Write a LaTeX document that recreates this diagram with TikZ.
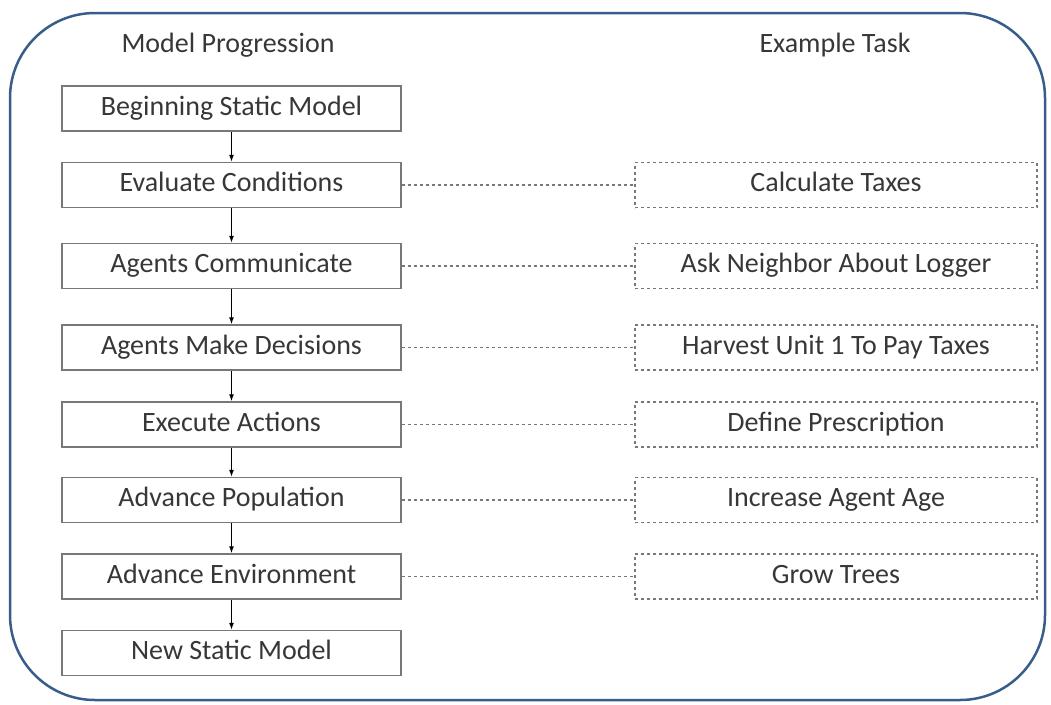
\documentclass[tikz,border=0pt]{standalone}
\usepackage{fontspec}
\setmainfont{Carlito}
\usetikzlibrary{positioning, arrows.meta}
\definecolor{framecol}{RGB}{56,93,138}
\definecolor{boxgray}{RGB}{120,120,120}
\definecolor{textgray}{RGB}{55,55,55}
\tikzset{
boxtext/.style={inner ysep=0pt, text height=20pt, text depth=7pt, minimum height=45pt, text=textgray}, % same height for every box
stepbox/.style={boxtext, draw=boxgray, line width=1.5pt, minimum width=339pt}, % solid boxes on the left
taskbox/.style={boxtext, draw=boxgray, dashed, line width=1.2pt, minimum width=402pt}, % dashed boxes on the right
flow/.style={-{Latex[length=7pt,width=5pt]}, line width=1pt}, % arrows between steps
link/.style={dashed, draw=boxgray, line width=1.2pt}, % step to task
head/.style={text=textgray},
}
\begin{document}
\begin{tikzpicture}[x=1pt, y=-1pt, font=\fontsize{28}{33}\selectfont]
        \useasboundingbox (0,0) rectangle (1051,704);
        \draw[framecol, line width=2.5pt, rounded corners=85pt] (10,13) rectangle (1045,700);

        \node[head] (h1) at (228,45) {Model Progression};
        \node[head] (h2) at (835,45) {Example Task};

        \node[stepbox] (s1) at (231.5,108.5) {Beginning Static Model};
        \node[stepbox, below=30pt of s1] (s2) {Evaluate Conditions};
        \node[stepbox, below=34.5pt of s2] (s3) {Agents Communicate};
        \node[stepbox, below=35pt of s3] (s4) {Agents Make Decisions};
        \node[stepbox, below=30.5pt of s4] (s5) {Execute Actions};
        \node[stepbox, below=29pt of s5] (s6) {Advance Population};
        \node[stepbox, below=30pt of s6] (s7) {Advance Environment};
        \node[stepbox, below=30pt of s7] (s8) {New Static Model};

        \node[taskbox] (t2) at (s2 -| 836,0) {Calculate Taxes};
        \node[taskbox] (t3) at (s3 -| 836,0) {Ask Neighbor About Logger};
        \node[taskbox] (t4) at (s4 -| 836,0) {Harvest Unit 1 To Pay Taxes};
        \node[taskbox] (t5) at (s5 -| 836,0) {Define Prescription};
        \node[taskbox] (t6) at (s6 -| 836,0) {Increase Agent Age};
        \node[taskbox] (t7) at (s7 -| 836,0) {Grow Trees};

        \foreach \a/\b in {s1/s2, s2/s3, s3/s4, s4/s5, s5/s6, s6/s7, s7/s8}
          \draw[flow] (\a) -- (\b);
        \foreach \i in {2,...,7}
          \draw[link] (s\i) -- (t\i);
      \end{tikzpicture}
\end{document}
